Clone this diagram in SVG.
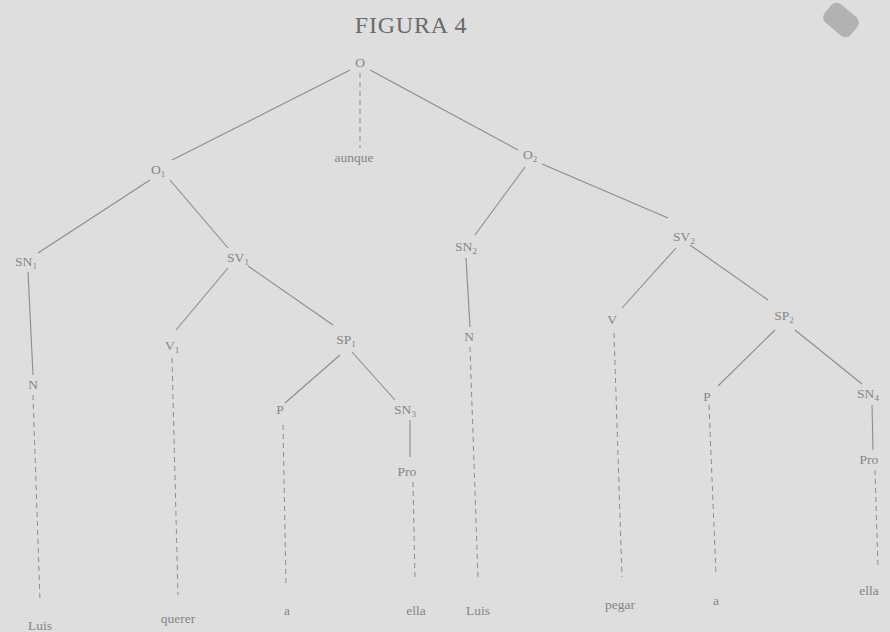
<svg xmlns="http://www.w3.org/2000/svg" width="890" height="632" viewBox="0 0 890 632">
<style>
.t{font-family:"Liberation Serif","DejaVu Serif",serif;font-size:13.5px;fill:#858585;text-anchor:middle}
.s{font-size:9px}
.e{stroke:#8c8c8c;stroke-width:1.1;fill:none}
.d{stroke:#8c8c8c;stroke-width:1;fill:none;stroke-dasharray:5 4}
.title{font-family:"Liberation Serif","DejaVu Serif",serif;font-size:24px;letter-spacing:0.8px;fill:#6a6a6a;text-anchor:middle}
</style>
<rect width="890" height="632" fill="#dedede"/>
<g id="smudge"><rect x="824" y="8" width="34" height="24" rx="7" fill="#b2b2b2" transform="rotate(40 841 20)"/></g>
<text class="title" x="411" y="33">FIGURA 4</text>
<g id="connectors">
<line class="e" x1="350" y1="70" x2="172" y2="160"/>
<line class="d" x1="360" y1="73" x2="360" y2="148"/>
<line class="e" x1="370" y1="70" x2="518" y2="150"/>
<line class="e" x1="150" y1="180" x2="38" y2="253"/>
<line class="e" x1="170" y1="180" x2="228" y2="248"/>
<line class="e" x1="525" y1="167" x2="475" y2="235"/>
<line class="e" x1="542" y1="164" x2="668" y2="218"/>
<line class="e" x1="28" y1="272" x2="33" y2="375"/>
<line class="d" x1="33" y1="395" x2="40" y2="600"/>
<line class="e" x1="228" y1="268" x2="176" y2="330"/>
<line class="e" x1="248" y1="266" x2="333" y2="325"/>
<line class="d" x1="172" y1="358" x2="178" y2="595"/>
<line class="e" x1="340" y1="355" x2="285" y2="403"/>
<line class="e" x1="352" y1="352" x2="395" y2="400"/>
<line class="e" x1="410" y1="420" x2="410" y2="457"/>
<line class="d" x1="413" y1="482" x2="415" y2="580"/>
<line class="d" x1="283" y1="425" x2="286" y2="585"/>
<line class="e" x1="466" y1="258" x2="470" y2="327"/>
<line class="d" x1="470" y1="347" x2="478" y2="578"/>
<line class="e" x1="676" y1="248" x2="622" y2="308"/>
<line class="e" x1="690" y1="245" x2="768" y2="300"/>
<line class="d" x1="614" y1="333" x2="622" y2="577"/>
<line class="e" x1="775" y1="330" x2="718" y2="386"/>
<line class="e" x1="795" y1="330" x2="862" y2="384"/>
<line class="d" x1="709" y1="405" x2="716" y2="575"/>
<line class="e" x1="872" y1="405" x2="873" y2="450"/>
<line class="d" x1="875" y1="470" x2="878" y2="568"/>
</g>
<g id="n-O"><text class="t" x="360" y="67">O</text></g>
<g id="n-aunque"><text class="t" x="354" y="162">aunque</text></g>
<g id="n-O1"><text class="t" x="158" y="174">O<tspan class="s" dy="3">1</tspan></text></g>
<g id="n-O2"><text class="t" x="530" y="159">O<tspan class="s" dy="3">2</tspan></text></g>
<g id="n-SN1"><text class="t" x="26" y="266">SN<tspan class="s" dy="3">1</tspan></text></g>
<g id="n-SV1"><text class="t" x="238" y="262">SV<tspan class="s" dy="3">1</tspan></text></g>
<g id="n-SN2"><text class="t" x="466" y="251">SN<tspan class="s" dy="3">2</tspan></text></g>
<g id="n-SV2"><text class="t" x="684" y="241">SV<tspan class="s" dy="3">2</tspan></text></g>
<g id="n-N1"><text class="t" x="33" y="389">N</text></g>
<g id="n-V1"><text class="t" x="172" y="350">V<tspan class="s" dy="3">1</tspan></text></g>
<g id="n-SP1"><text class="t" x="346" y="344">SP<tspan class="s" dy="3">1</tspan></text></g>
<g id="n-P1"><text class="t" x="280" y="414">P</text></g>
<g id="n-SN3"><text class="t" x="405" y="414">SN<tspan class="s" dy="3">3</tspan></text></g>
<g id="n-Pro1"><text class="t" x="407" y="476">Pro</text></g>
<g id="n-N2"><text class="t" x="469" y="341">N</text></g>
<g id="n-V"><text class="t" x="612" y="324">V</text></g>
<g id="n-SP2"><text class="t" x="784" y="320">SP<tspan class="s" dy="3">2</tspan></text></g>
<g id="n-P2"><text class="t" x="707" y="401">P</text></g>
<g id="n-SN4"><text class="t" x="868" y="398">SN<tspan class="s" dy="3">4</tspan></text></g>
<g id="n-Pro2"><text class="t" x="869" y="464">Pro</text></g>
<g id="w-Luis1"><text class="t" x="40" y="630">Luis</text></g>
<g id="w-querer"><text class="t" x="178" y="623">querer</text></g>
<g id="w-a1"><text class="t" x="287" y="615">a</text></g>
<g id="w-ella1"><text class="t" x="416" y="615">ella</text></g>
<g id="w-Luis2"><text class="t" x="478" y="615">Luis</text></g>
<g id="w-pegar"><text class="t" x="620" y="609">pegar</text></g>
<g id="w-a2"><text class="t" x="716" y="605">a</text></g>
<g id="w-ella2"><text class="t" x="869" y="595">ella</text></g>
</svg>
